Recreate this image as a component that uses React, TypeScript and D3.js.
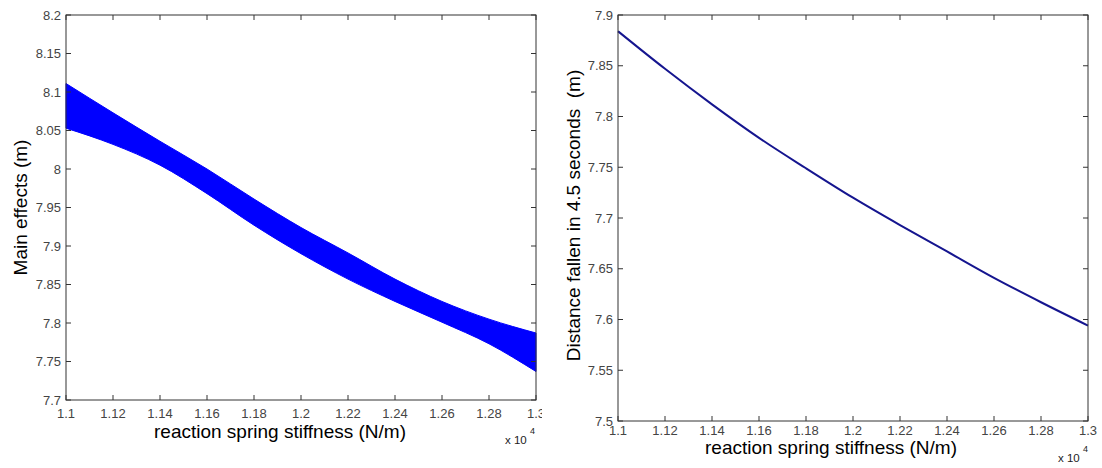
import React from "react";
import * as d3 from "d3";

// ---------- data ----------
const xTicks = [1.1, 1.12, 1.14, 1.16, 1.18, 1.2, 1.22, 1.24, 1.26, 1.28, 1.3];
const xTickLabels = ["1.1", "1.12", "1.14", "1.16", "1.18", "1.2", "1.22", "1.24", "1.26", "1.28", "1.3"];
const leftYTicks = [7.7, 7.75, 7.8, 7.85, 7.9, 7.95, 8, 8.05, 8.1, 8.15, 8.2];
const leftYTickLabels = ["7.7", "7.75", "7.8", "7.85", "7.9", "7.95", "8", "8.05", "8.1", "8.15", "8.2"];
const rightYTicks = [7.5, 7.55, 7.6, 7.65, 7.7, 7.75, 7.8, 7.85, 7.9];
const rightYTickLabels = ["7.5", "7.55", "7.6", "7.65", "7.7", "7.75", "7.8", "7.85", "7.9"];

// reaction spring stiffness (x 10^4 N/m)
const stiffness = [1.1, 1.12, 1.14, 1.16, 1.18, 1.2, 1.22, 1.24, 1.26, 1.28, 1.3];
// main effects band: upper and lower envelope of the traces (m)
const mainUpper = [8.111, 8.073, 8.036, 8.000, 7.961, 7.924, 7.891, 7.857, 7.828, 7.805, 7.787];
const mainLower = [8.053, 8.032, 8.005, 7.968, 7.927, 7.890, 7.857, 7.828, 7.801, 7.773, 7.737];
// distance fallen in 4.5 seconds (m)
const distance = [7.884, 7.847, 7.812, 7.779, 7.749, 7.720, 7.693, 7.667, 7.641, 7.617, 7.594];

const FONT = "'Liberation Sans', Arial, Helvetica, sans-serif";
const AXIS = "#333";
const TICKTXT = "#444";

type PanelProps = {
  x0: number; x1: number; y0: number; y1: number;
  yDomain: [number, number];
  yTicks: number[]; yLabels: string[];
  xLabelPos: [number, number];
  yLabelPos: [number, number];
  xTickBaseline: number;
  expPos: [number, number];
  yLabel: string;
  children: (xs: d3.ScaleLinear<number, number>, ys: d3.ScaleLinear<number, number>) => React.ReactNode;
};

function Panel(p: PanelProps) {
  const xs = d3.scaleLinear().domain([1.1, 1.3]).range([p.x0, p.x1]);
  const ys = d3.scaleLinear().domain(p.yDomain).range([p.y1, p.y0]);
  const T = 5;
  return (
    <g>
      {p.children(xs, ys)}
      <rect x={p.x0} y={p.y0} width={p.x1 - p.x0} height={p.y1 - p.y0} fill="none" stroke={AXIS} strokeWidth={1} />
      {xTicks.map((t, i) => (
        <g key={"xt" + i}>
          <line x1={xs(t)} x2={xs(t)} y1={p.y1} y2={p.y1 - T} stroke={AXIS} />
          <line x1={xs(t)} x2={xs(t)} y1={p.y0} y2={p.y0 + T} stroke={AXIS} />
          <text x={xs(t)} y={p.xTickBaseline} textAnchor="middle" fontSize={13} fill={TICKTXT} fontFamily={FONT}>
            {xTickLabels[i]}
          </text>
        </g>
      ))}
      {p.yTicks.map((t, i) => (
        <g key={"yt" + i}>
          <line x1={p.x0} x2={p.x0 + T} y1={ys(t)} y2={ys(t)} stroke={AXIS} />
          <line x1={p.x1} x2={p.x1 - T} y1={ys(t)} y2={ys(t)} stroke={AXIS} />
          <text x={p.x0 - 5} y={ys(t)} dy="0.35em" textAnchor="end" fontSize={13} fill={TICKTXT} fontFamily={FONT}>
            {p.yLabels[i]}
          </text>
        </g>
      ))}
      <text x={p.xLabelPos[0]} y={p.xLabelPos[1]} textAnchor="middle" fontSize={19} fill="#000" fontFamily={FONT}>
        reaction spring stiffness (N/m)
      </text>
      <text
        transform={`translate(${p.yLabelPos[0]},${p.yLabelPos[1]}) rotate(-90)`}
        textAnchor="middle" fontSize={19} fill="#000" fontFamily={FONT}
        style={{ whiteSpace: "pre" }}
      >
        {p.yLabel}
      </text>
      <text x={p.expPos[0]} y={p.expPos[1]} fontSize={11.5} fill="#222" fontFamily={FONT}>x 10</text>
      <text x={p.expPos[0] + 25} y={p.expPos[1] - 10} fontSize={9} fill="#222" fontFamily={FONT}>4</text>
    </g>
  );
}

export default function App() {
  const bandIdx = stiffness.map((_, i) => i);
  return (
    <svg width={1102} height={468} style={{ position: "absolute", left: 0, top: 0, background: "#fff" }}>
      <defs>
        <clipPath id="leftClip"><rect x={0} y={0} width={542} height={468} /></clipPath>
      </defs>
      <rect x={0} y={0} width={1102} height={468} fill="#fff" />
      <g clipPath="url(#leftClip)">
        <Panel
          x0={66} x1={536} y0={15} y1={400}
          yDomain={[7.7, 8.2]} yTicks={leftYTicks} yLabels={leftYTickLabels}
          xLabelPos={[280, 438]} yLabelPos={[27, 207.5]} xTickBaseline={418}
          expPos={[505, 444]} yLabel="Main effects (m)"
        >
          {(xs, ys) => {
            const area = d3.area<number>()
              .x((i) => xs(stiffness[i]))
              .y0((i) => ys(mainLower[i]))
              .y1((i) => ys(mainUpper[i]))
              .curve(d3.curveMonotoneX);
            return <path d={area(bandIdx) || ""} fill="#0000ff" stroke="#0000ff" strokeWidth={1} />;
          }}
        </Panel>
      </g>
      <Panel
        x0={618} x1={1088} y0={15} y1={421}
        yDomain={[7.5, 7.9]} yTicks={rightYTicks} yLabels={rightYTickLabels}
        xLabelPos={[831, 454]} yLabelPos={[580, 215.5]} xTickBaseline={435}
        expPos={[1058, 462]} yLabel={"Distance fallen in 4.5 seconds  (m)"}
      >
        {(xs, ys) => {
          const line = d3.line<number>()
            .x((_, i) => xs(stiffness[i]))
            .y((d) => ys(d))
            .curve(d3.curveMonotoneX);
          return <path d={line(distance) || ""} fill="none" stroke="#15158f" strokeWidth={2} />;
        }}
      </Panel>
    </svg>
  );
}
